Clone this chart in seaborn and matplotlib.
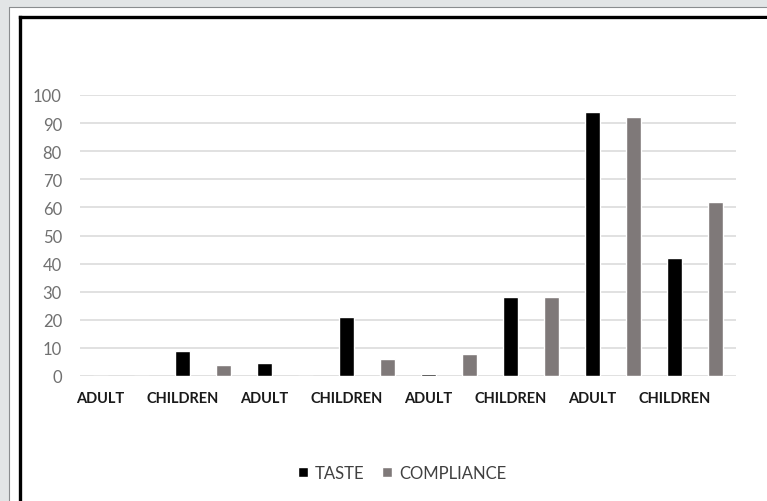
import matplotlib
matplotlib.use("Agg")
import matplotlib.pyplot as plt
from matplotlib.patches import Rectangle
from matplotlib.lines import Line2D
import pandas as pd
import seaborn as sns

# groups along the x axis, and the two series
groups = ["ADULT", "CHILDREN", "ADULT", "CHILDREN", "ADULT", "CHILDREN", "ADULT", "CHILDREN"]
taste = [0, 9, 4.5, 21, 0.8, 28, 94, 42]
compliance = [0, 4, 0, 6, 8, 28, 92, 62]
series_names = ["TASTE", "COMPLIANCE"]
colors = {"TASTE": "#000000", "COMPLIANCE": "#7f7979"}

# each group takes two slots: taste in the first, compliance in the second
rows = []
for i in range(len(groups)):
    rows.append({"slot": 2 * i, "value": taste[i], "series": "TASTE"})
    rows.append({"slot": 2 * i + 1, "value": compliance[i], "series": "COMPLIANCE"})
df = pd.DataFrame(rows)

sns.set_style("white")
plt.rcParams["font.family"] = ["Lato", "DejaVu Sans"]

W, H = 767, 502
fig = plt.figure(figsize=(W / 100, H / 100), dpi=100)
fig.patch.set_facecolor("#e2e5e6")

# white card behind everything, thin grey edge, then the black frame (left + top only)
fig.patches.append(Rectangle((8.5 / W, -0.05), 1, 1.05 - 7.5 / H, transform=fig.transFigure,
                             facecolor="white", edgecolor="none", zorder=-2))
fig.add_artist(Line2D([8.5 / W, 8.5 / W], [0, 1 - 7.5 / H], transform=fig.transFigure,
                      color="#8a8d8f", linewidth=0.8, zorder=-1))
fig.add_artist(Line2D([8.5 / W, 1], [1 - 7.5 / H, 1 - 7.5 / H], transform=fig.transFigure,
                      color="#8a8d8f", linewidth=0.8, zorder=-1))
fig.add_artist(Line2D([19.5 / W, 19.5 / W], [0, 1 - 17.5 / H], transform=fig.transFigure,
                      color="black", linewidth=2.4, solid_capstyle="projecting", zorder=-1))
fig.add_artist(Line2D([19.5 / W, 1], [1 - 17.5 / H, 1 - 17.5 / H], transform=fig.transFigure,
                      color="black", linewidth=2.4, solid_capstyle="projecting", zorder=-1))
# the card runs on past the right edge: keep that strip plain white
fig.patches.append(Rectangle((750 / W, -0.05), 0.1, 1.05 - 20 / H, transform=fig.transFigure,
                             facecolor="white", edgecolor="none", zorder=10))

left, right, top, bottom = 80, 736, 96, 377
ax = fig.add_axes([left / W, 1 - bottom / H, (right - left) / W, (bottom - top) / H])
ax.set_facecolor("none")

sns.barplot(data=df, x="slot", y="value", hue="series", hue_order=series_names,
            palette=colors, dodge=False, width=0.39, saturation=1, ax=ax, zorder=3)

ax.set_xlim(-0.5, 15.5)
ax.set_ylim(0, 100)
ax.set_yticks(range(0, 101, 10))
ax.yaxis.grid(True, color="#d9d9d9", linewidth=1.1, zorder=0)
ax.set_axisbelow(True)
ax.set_xticks(range(0, 16, 2))
ax.set_xticklabels(groups, fontsize=10.5, fontweight="bold", color="#1a1a1a")
ax.tick_params(axis="x", length=0, pad=11)
ax.tick_params(axis="y", length=0, pad=13, labelsize=12, labelcolor="#707070")
ax.set_xlabel("")
ax.set_ylabel("")
for s in ax.spines.values():
    s.set_visible(False)

sns.move_legend(ax, "center", bbox_to_anchor=(402 / W, 1 - 474 / H),
                bbox_transform=fig.transFigure, ncol=2, frameon=False, title=None,
                fontsize=12, handlelength=0.6, handleheight=0.6, handletextpad=0.4,
                columnspacing=1.1)
for t in ax.get_legend().get_texts():
    t.set_color("#404040")

fig.savefig("out.png", dpi=100, facecolor=fig.get_facecolor())
